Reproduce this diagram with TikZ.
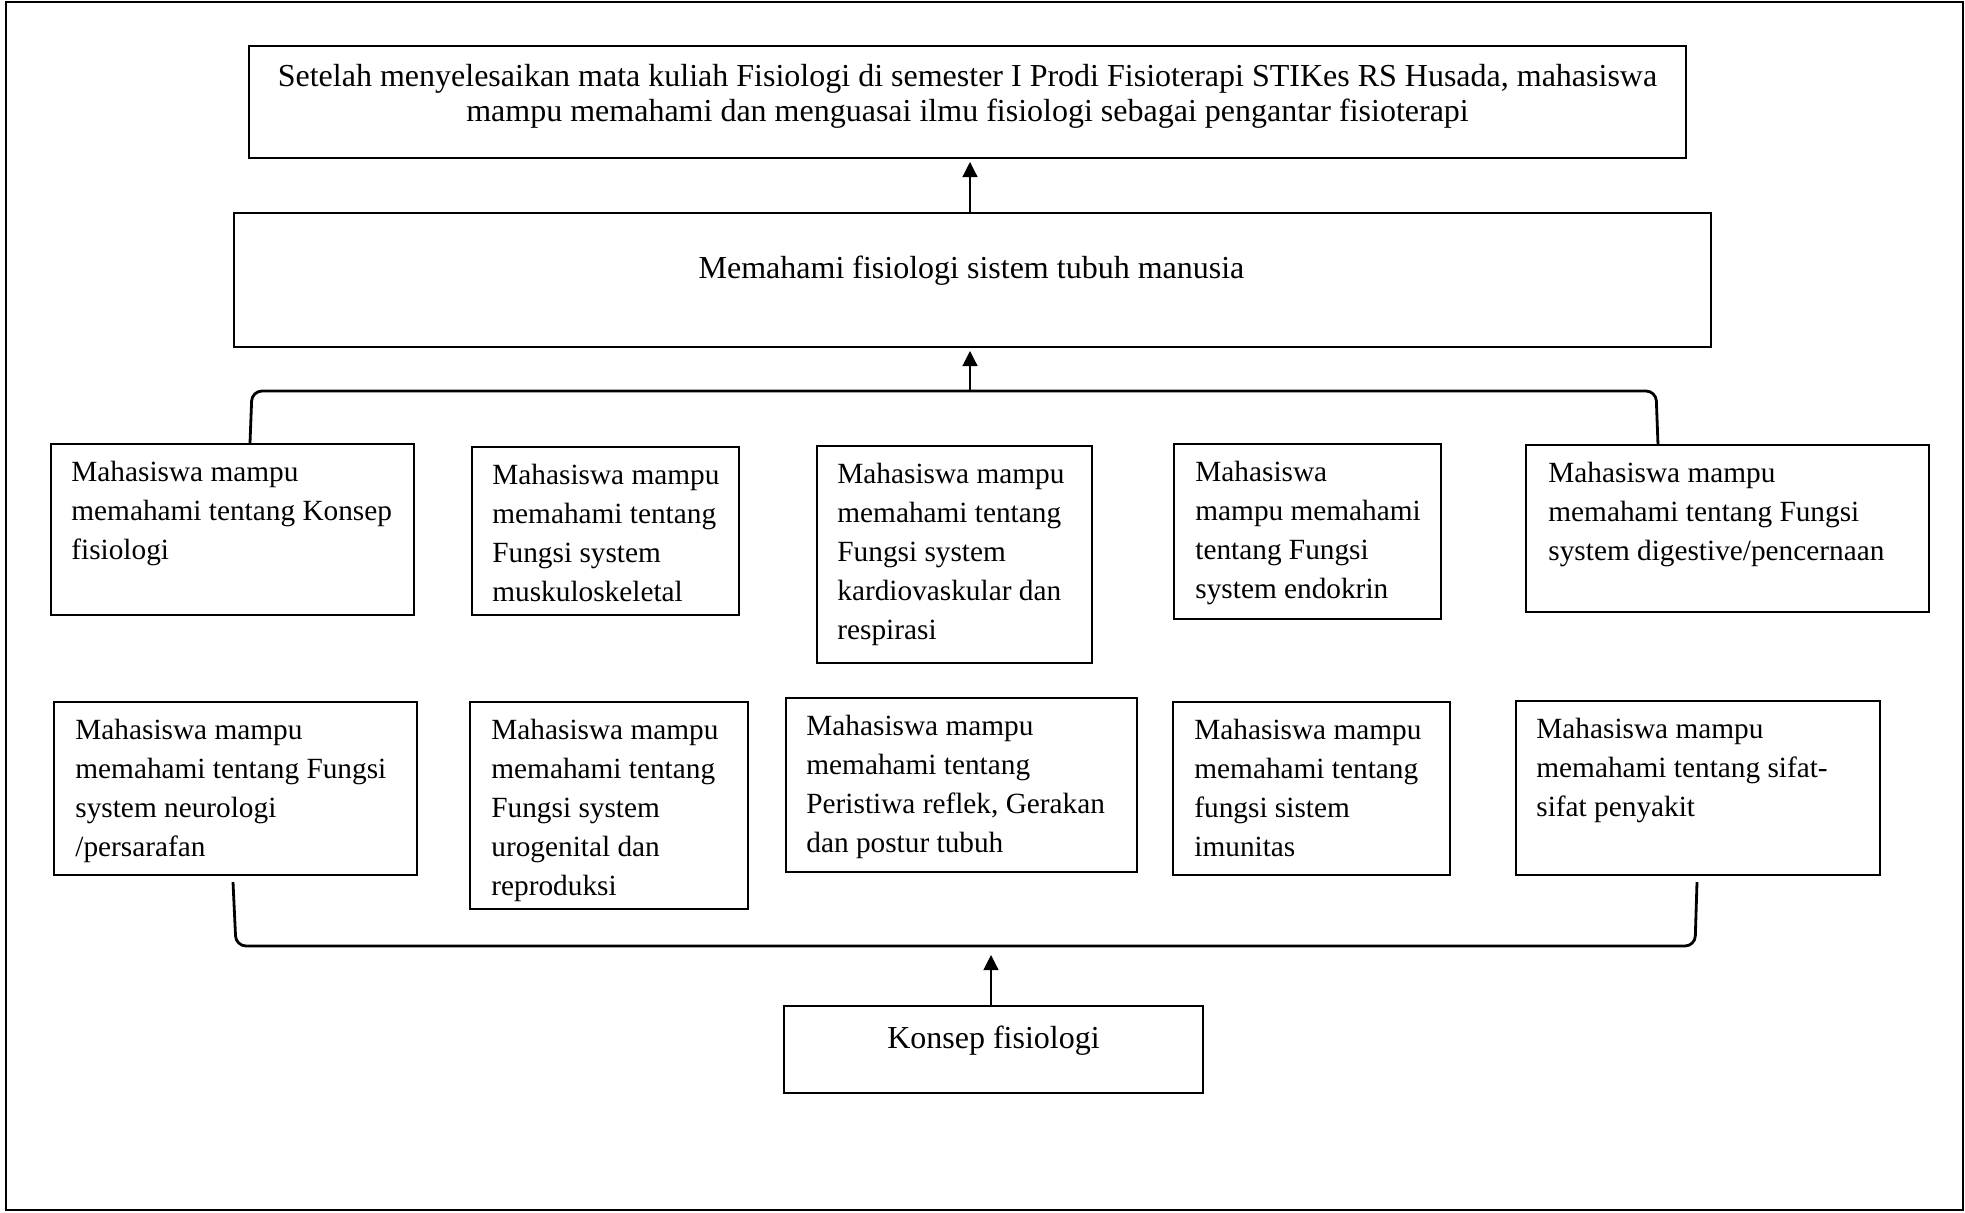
\documentclass[tikz,border=0pt]{standalone}
\usepackage{fontspec}
\setmainfont{Liberation Serif}
\usetikzlibrary{arrows.meta}
\begin{document}
\begin{tikzpicture}[x=0.5pt,y=-0.5pt,
  box/.style={draw, line width=0.9pt, inner sep=0pt, outer sep=0pt, anchor=north west},
  txt/.style={inner sep=0pt, anchor=north west, align=left, font=\fontsize{14.65}{19.5}\selectfont},
  ctxt/.style={inner sep=0pt, align=center, font=\fontsize{16}{17.6}\selectfont},
  brk/.style={line width=1.4pt, rounded corners=5pt},
  arr/.style={line width=0.6pt, -{Triangle[length=7.5pt,width=7.5pt]}, shorten >=2pt}]
\useasboundingbox (0,0) rectangle (1965,1212);
\draw[line width=1.2pt] (6,2) rectangle (1963,1210);
% top boxes
\node[box, minimum width=718.5pt, minimum height=56pt] (top) at (249,46) {};
\node[ctxt] (toptxt) at ([shift={(0,-5.5)}]top.center) {Setelah menyelesaikan mata kuliah Fisiologi di semester I Prodi Fisioterapi STIKes RS Husada, mahasiswa\\mampu memahami dan menguasai ilmu fisiologi sebagai pengantar fisioterapi};
\node[box, minimum width=738.5pt, minimum height=67pt] (mid) at (234,213) {};
\node[ctxt] (midtxt) at ([shift={(-1,-9.5)}]mid.center) {Memahami fisiologi sistem tubuh manusia};
% row 1
\node[box, minimum width=181.5pt, minimum height=85.5pt] (b1) at (51,444) {};
\node[box, minimum width=133.5pt, minimum height=84pt] (b2) at (472,447) {};
\node[box, minimum width=137.5pt, minimum height=108.5pt] (b3) at (817,446) {};
\node[box, minimum width=133.5pt, minimum height=87.5pt] (b4) at (1174,444) {};
\node[box, minimum width=201.5pt, minimum height=83.5pt] (b5) at (1526,445) {};
\node[txt] (t1) at ([shift={(20,17)}]b1.north west) {Mahasiswa mampu\\memahami tentang Konsep\\fisiologi};
\node[txt] (t2) at ([shift={(20,17)}]b2.north west) {Mahasiswa mampu\\memahami tentang\\Fungsi system\\muskuloskeletal};
\node[txt] (t3) at ([shift={(20,17)}]b3.north west) {Mahasiswa mampu\\memahami tentang\\Fungsi system\\kardiovaskular dan\\respirasi};
\node[txt] (t4) at ([shift={(21,17)}]b4.north west) {Mahasiswa\\mampu memahami\\tentang Fungsi\\system endokrin};
\node[txt] (t5) at ([shift={(22,17)}]b5.north west) {Mahasiswa mampu\\memahami tentang Fungsi\\system digestive/pencernaan};
% row 2
\node[box, minimum width=181.5pt, minimum height=86.5pt] (c1) at (54,702) {};
\node[box, minimum width=139pt, minimum height=103.5pt] (c2) at (470,702) {};
\node[box, minimum width=175.5pt, minimum height=87pt] (c3) at (786,698) {};
\node[box, minimum width=138.5pt, minimum height=86.5pt] (c4) at (1173,702) {};
\node[box, minimum width=182pt, minimum height=87pt] (c5) at (1516,701) {};
\node[txt] (s1) at ([shift={(21,17)}]c1.north west) {Mahasiswa mampu\\memahami tentang Fungsi\\system neurologi\\/persarafan};
\node[txt] (s2) at ([shift={(21,17)}]c2.north west) {Mahasiswa mampu\\memahami tentang\\Fungsi system\\urogenital dan\\reproduksi};
\node[txt] (s3) at ([shift={(20,17)}]c3.north west) {Mahasiswa mampu\\memahami tentang\\Peristiwa reflek, Gerakan\\dan postur tubuh};
\node[txt] (s4) at ([shift={(21,17)}]c4.north west) {Mahasiswa mampu\\memahami tentang\\fungsi sistem\\imunitas};
\node[txt] (s5) at ([shift={(20,17)}]c5.north west) {Mahasiswa mampu\\memahami tentang sifat-\\sifat penyakit};
% bottom
\node[box, minimum width=209.5pt, minimum height=43.5pt] (k) at (784,1006) {};
\node[ctxt] (ktxt) at ([shift={(0,-8.5)}]k.center) {Konsep fisiologi};
% brackets
\coordinate (ul) at (250,443);
\coordinate (ur) at (1658,445);
\coordinate (um) at (970,391);
\draw[brk] (ul) -- (252,391) -- (1656,391) -- (ur);
\coordinate (ll) at (233,882);
\coordinate (lr) at (1697,882);
\coordinate (lm) at (991,946);
\draw[brk] (ll) -- (236,946) -- (1695,946) -- (lr);
% arrows
\draw[arr] (um) -- (um |- mid.south);
\draw[arr] (mid.north -| um) -- (top.south -| um);
\draw[arr, shorten >=4.5pt] (k.north -| lm) -- (lm);
\end{tikzpicture}
\end{document}
